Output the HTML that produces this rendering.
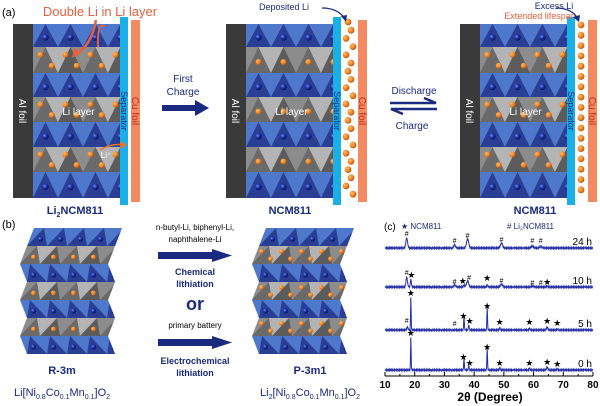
<!DOCTYPE html>
<html><head><meta charset="utf-8"><style>
html,body{margin:0;padding:0;background:#fff}
svg{display:block;font-family:"Liberation Sans",sans-serif}
</style></head><body>
<svg id="s" width="600" height="406" viewBox="0 0 600 406" xmlns="http://www.w3.org/2000/svg">
<defs>
<radialGradient id="bb" cx="0.35" cy="0.35" r="0.7"><stop offset="0" stop-color="#6a8cff"/><stop offset="0.5" stop-color="#1a2fa0"/><stop offset="1" stop-color="#071055"/></radialGradient>
<radialGradient id="ob" cx="0.35" cy="0.35" r="0.7"><stop offset="0" stop-color="#ffc070"/><stop offset="0.6" stop-color="#f08020"/><stop offset="1" stop-color="#b05008"/></radialGradient>
</defs>
<g id="g"></g>
</svg>
<script>
var g=document.getElementById('g'),NS='http://www.w3.org/2000/svg',cid=0;
function el(t,a,txt,par){var e=document.createElementNS(NS,t);for(var k in a)e.setAttribute(k,a[k]);if(txt!=null)e.textContent=txt;(par||g).appendChild(e);return e;}
function layer(xa,xb,y0,y1,off0,off1,blue,p,balls,twoRows,par){
 var id='c'+(cid++);var cp=el('clipPath',{id:id},null,document.querySelector('defs'));
 el('polygon',{points:(xa+off0)+','+y0+' '+(xb+off0)+','+y0+' '+(xb+off1)+','+y1+' '+(xa+off1)+','+y1},null,cp);
 var gg=el('g',{'clip-path':'url(#'+id+')'},null,par);
 el('rect',{x:xa-30,y:y0,width:xb-xa+60,height:y1-y0,fill:blue?'#4d78cc':'#8c8c8c'},null,gg);
 for(var k=-2;k*p<xb-xa+p;k++){
  var x=xa+k*p;
  el('polygon',{points:(x+off1)+','+y1+' '+(x+p/2+off0)+','+y0+' '+(x+p+off1)+','+y1,fill:blue?'#2a3f94':(k%2?'#5c5c5c':'#6a6a6a')},null,gg);
  if(!blue&&k%2==0)el('polygon',{points:(x+p/2+off0)+','+y0+' '+(x+p+off1)+','+y1+' '+(x+1.5*p+off0)+','+y0,fill:'#b4b4b4'},null,gg);
 }
 if(balls){
  for(var k=0;k*p<xb-xa;k++){
   var fx=xa+(k+0.5)*p,ym=(y0+y1)/2;
   if(blue){el('circle',{cx:fx+(off0+off1)/2,cy:ym+2,r:p*0.13,fill:'url(#bb)'},null,gg);}
   else if(twoRows){el('circle',{cx:fx+(off0+off1)/2-p*0.2,cy:y0+(y1-y0)*0.3,r:p*0.12,fill:'url(#ob)'},null,gg);el('circle',{cx:fx+(off0+off1)/2+p*0.25,cy:y0+(y1-y0)*0.72,r:p*0.12,fill:'url(#ob)'},null,gg);}
   else el('circle',{cx:fx+(off0+off1)/2,cy:ym+2,r:p*0.12,fill:'url(#ob)'},null,gg);
  }
 }
}
function crystalA(x0,x1,two){
 var ys=[24,47,73,97,122,147,172,198];
 for(var i=0;i<7;i++)layer(x0,x1,ys[i],ys[i+1],0,0,i%2==0,25,true,two&&i%2==1);
}
function txt(x,y,s,o){var a={x:x,y:y,'font-size':o.fs||10,fill:o.c||'#1a2a80','text-anchor':o.a||'middle'};if(o.b)a['font-weight']='bold';if(o.t)a.transform=o.t;return el('text',a,s);}
function rotText(x,y,s,c,deg){return txt(0,0,s,{c:c,fs:10,t:'translate('+x+','+y+') rotate('+deg+')'});}
// (a)
txt(2,16,'(a)',{a:'start',fs:11,c:'#000'});
txt(100,16,'Double Li in Li layer',{fs:13,c:'#e8603c'});
function cell(al,cx0,cx1,sep,cu,two,lab,lx,balls){
 el('rect',{x:al,y:24,width:20,height:174,fill:'#3a3a3a'});
 crystalA(cx0,cx1,two);
 el('rect',{x:sep,y:17,width:8,height:188,fill:'#19b0e8'});
 el('rect',{x:cu,y:20,width:9,height:182,fill:'#f48a62'});
 var t=rotText(al+10,111,'Al foil','#fff',90);t.setAttribute('dy','4');
 var t2=rotText(sep+4,111,'Separator','#1a2a80',90);t2.setAttribute('dy','3');t2.setAttribute('font-size','9');
 var t3=rotText(cu+5,111,'Cu foil','#c0301a',90);t3.setAttribute('dy','4');
 txt((cx0+cx1)/2+2,115,'Li layer',{fs:10,c:'#fff'});
 txt(lx,214,lab,{fs:11,b:1});
}
cell(13,33,120,120,131,true,'',75);
txt(75,214,'Li',{fs:11,b:1}).innerHTML='Li<tspan font-size="7" dy="3">2</tspan><tspan dy="-3">NCM811</tspan>';
el('path',{d:'M98,47 Q97,22 105,26',stroke:'#e8603c','stroke-width':2,fill:'none'});
el('path',{d:'M96,20 Q92,45 75,55',stroke:'#e8603c','stroke-width':2.5,fill:'none'});
el('polygon',{points:'72,58 74,48 81,53',fill:'#e8603c'});
el('path',{d:'M100,150 Q112,143 124,145',stroke:'#f07020','stroke-width':1.5,fill:'none'});
el('polygon',{points:'127,145 120,141 121,149',fill:'#f07020'});
txt(106,158,'Li⁺',{fs:8,c:'#fff'});
cell(226,246,333,333,358,false,'NCM811',290);
for(var i=0;i<22;i++)el('circle',{cx:346+(i%2)*5+(i%3==0?2:0),cy:22+i*8.2,r:3.4,fill:'url(#ob)'});
txt(284,10,'Deposited Li',{fs:9});
el('path',{d:'M322,8 Q338,8 345,19',stroke:'#1a2a80','stroke-width':1.3,fill:'none'});
el('polygon',{points:'346,22 341,16 347,15',fill:'#1a2a80'});
cell(460,480,567,567,588,true,'NCM811',535);
for(var i=0;i<17;i++)el('circle',{cx:581,cy:25+i*10.3,r:3.4,fill:'url(#ob)'});
txt(554,9,'Excess Li',{fs:9});
txt(540,19,'Extended lifespan',{fs:9,c:'#e8603c'});
el('path',{d:'M556,8 Q572,8 578,19',stroke:'#1a2a80','stroke-width':1.3,fill:'none'});
el('polygon',{points:'579,22 573,17 580,15',fill:'#1a2a80'});
txt(183,82,'First',{fs:10});txt(183,95,'Charge',{fs:10});
el('rect',{x:162,y:105,width:33,height:6,fill:'#1a2a80'});el('polygon',{points:'195,100 209,108 195,116',fill:'#1a2a80'});
txt(414,94,'Discharge',{fs:10});txt(412,129,'Charge',{fs:10});
el('path',{d:'M390,103 L436,103 L424,98',stroke:'#1a2a80','stroke-width':2.5,fill:'none'});
el('path',{d:'M437,109 L391,109 L403,114',stroke:'#1a2a80','stroke-width':2.5,fill:'none'});
// (b)
txt(2,228,'(b)',{a:'start',fs:11,c:'#000'});
function crystalB(x0,x1,two){
 var y=[228,246,264,282,300,318,336,354];var off=[12,6,0,-6,0,6,12,18];
 // zigzag: top layers slant
 var o=[14,7,0,7,0,7,0,7];
 for(var i=0;i<7;i++)layer(x0,x1,y[i],y[i+1],o[i],o[i+1]-(i>=2?0:0),i%2==0,20,true,two&&i%2==1);
}
crystalB(20,108,false);crystalB(252,340,true);
txt(62,374,'R-3m',{fs:11,b:1});
el('text',{x:62,y:396,'font-size':11,fill:'#1a2a80','text-anchor':'middle'}).innerHTML='Li[Ni<tspan font-size="7" dy="3">0.8</tspan><tspan dy="-3">Co</tspan><tspan font-size="7" dy="3">0.1</tspan><tspan dy="-3">Mn</tspan><tspan font-size="7" dy="3">0.1</tspan><tspan dy="-3">]O</tspan><tspan font-size="7" dy="3">2</tspan>';
txt(310,374,'P-3m1',{fs:11,b:1});
el('text',{x:310,y:396,'font-size':11,fill:'#1a2a80','text-anchor':'middle'}).innerHTML='Li<tspan font-size="7" dy="3">2</tspan><tspan dy="-3">[Ni</tspan><tspan font-size="7" dy="3">0.8</tspan><tspan dy="-3">Co</tspan><tspan font-size="7" dy="3">0.1</tspan><tspan dy="-3">Mn</tspan><tspan font-size="7" dy="3">0.1</tspan><tspan dy="-3">]O</tspan><tspan font-size="7" dy="3">2</tspan>';
txt(195,230,'n-butyl-Li, biphenyl-Li,',{fs:8,c:'#000'});
txt(195,242,'naphthalene-Li',{fs:8,c:'#000'});
el('rect',{x:158,y:252,width:56,height:7,fill:'#1a2a80'});el('polygon',{points:'212,249 232,255.5 212,262',fill:'#1a2a80'});
txt(195,275,'Chemical',{fs:9,b:1});txt(195,287,'lithiation',{fs:9,b:1});
txt(195,310,'or',{fs:18,b:1});
txt(195,328,'primary battery',{fs:8,c:'#000'});
el('rect',{x:158,y:339,width:56,height:7,fill:'#1a2a80'});el('polygon',{points:'212,336 232,342.5 212,349',fill:'#1a2a80'});
txt(195,364,'Electrochemical',{fs:9,b:1});txt(195,376,'lithiation',{fs:9,b:1});
// (c)
txt(384,230,'(c)',{a:'start',fs:10,c:'#000'});
txt(401,229,'★ NCM811',{a:'start',fs:8});
txt(507,229,'# Li₂NCM811',{a:'start',fs:8});
function X(v){return 385+(v-10)*2.971;}
el('line',{x1:385,y1:376,x2:593,y2:376,stroke:'#000','stroke-width':1});
for(var v=10;v<=80;v+=10){el('line',{x1:X(v),y1:376,x2:X(v),y2:372,stroke:'#000'});txt(X(v),388,''+v,{fs:10,b:1,c:'#000'});}
for(var v=15;v<80;v+=10)el('line',{x1:X(v),y1:376,x2:X(v),y2:374,stroke:'#000'});
txt(490,401,'2θ (Degree)',{fs:12,b:1,c:'#000'});
function trace(base,peaks,lab){
 var d='';for(var v=10;v<=80;v+=0.1){var y=base+Math.sin(v*37)*0.6;for(var j=0;j<peaks.length;j++){var p=peaks[j];y-=p[1]*Math.exp(-Math.pow((v-p[0])/p[2],2));}d+=(d?'L':'M')+X(v).toFixed(1)+','+y.toFixed(1);}
 el('path',{d:d,stroke:'#2530a8','stroke-width':1,fill:'none'});
 txt(592,base-3,lab,{a:'end',fs:10,c:'#000'});
}
function mk(v,y,s){txt(X(v),y,s,{fs:s=='#'?7:9,c:'#000'});}
trace(248,[[17.3,10,0.4],[33.4,3,0.4],[37.8,9,0.5],[49.2,5,0.5],[59.6,2,0.5],[62.4,1.5,0.5]],'24 h');
mk(17.3,236,'#');mk(33.4,243,'#');mk(37.8,238,'#');mk(49.2,242,'#');mk(59.6,243,'#');mk(62.4,243,'#');
trace(287,[[17.3,10,0.35],[18.7,8,0.25],[33.4,2,0.4],[36.6,2,0.3],[37.8,6,0.5],[44.4,2.5,0.2],[49.2,3,0.5],[59.6,1,0.4],[64.6,1,0.3]],'10 h');
mk(17.3,275,'#');mk(18.9,278,'★');mk(33.4,284,'#');mk(36.2,284,'★');mk(38.3,280,'#');mk(44.4,281,'★');mk(49.2,283,'#');mk(59.6,285,'#');mk(62.4,285,'#');mk(64.6,285,'★');
trace(330,[[17.5,3,0.3],[18.7,33,0.15],[36.6,14,0.15],[38.2,5,0.2],[44.4,23,0.15],[48.6,2,0.2],[58.6,2,0.2],[64.6,3,0.3],[68,1,0.2]],'5 h');
mk(17.3,323,'#');mk(18.7,296,'★');mk(33.4,326,'#');mk(36.4,319,'★');mk(38.5,324,'★');mk(44.4,309,'★');mk(48.6,325,'★');mk(58.6,325,'★');mk(64.6,324,'★');mk(68,326,'★');
trace(370,[[18.7,33,0.15],[36.6,12,0.15],[38.2,4,0.2],[44.4,22,0.15],[48.6,2,0.2],[58.6,2,0.2],[64.6,3,0.3],[68,1.5,0.2]],'0 h');
mk(18.7,336,'★');mk(36.4,360,'★');mk(38.5,366,'★');mk(44.4,350,'★');mk(48.6,366,'★');mk(58.6,366,'★');mk(64.6,365,'★');mk(68,367,'★');
</script>
</body></html>
